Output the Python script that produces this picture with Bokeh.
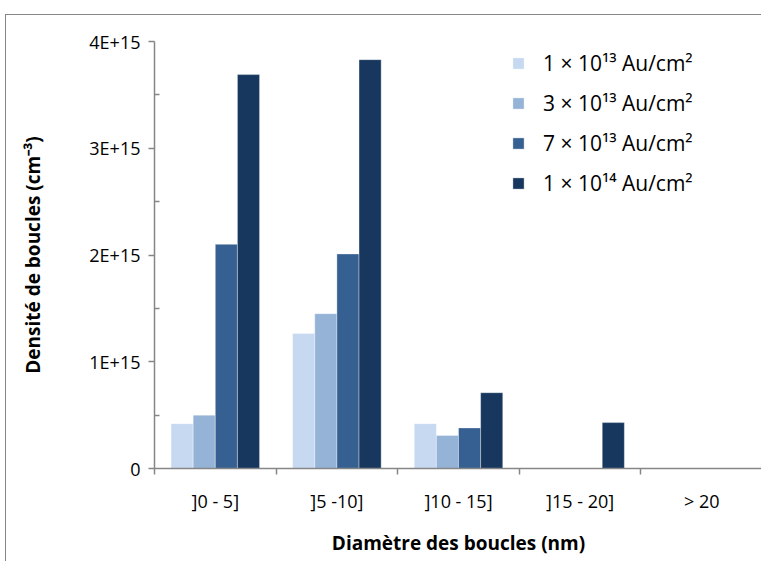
from bokeh.plotting import figure
from bokeh.models import (FixedTicker, CustomJSTickFormatter, Legend, LegendItem,
                          ColumnDataSource, LinearAxis)
from bokeh.embed import file_html
from bokeh.resources import INLINE

categories = ["]0 - 5]", "]5 -10]", "]10 - 15]", "]15 - 20]", "> 20"]
series_labels = ["1 × 10¹³ Au/cm²", "3 × 10¹³ Au/cm²", "7 × 10¹³ Au/cm²", "1 × 10¹⁴ Au/cm²"]
dose_1e13 = [0.42e15, 1.265e15, 0.42e15, 0.0, 0.0]
dose_3e13 = [0.50e15, 1.45e15, 0.31e15, 0.0, 0.0]
dose_7e13 = [2.10e15, 2.01e15, 0.38e15, 0.0, 0.0]
dose_1e14 = [3.69e15, 3.83e15, 0.71e15, 0.43e15, 0.0]
colors = ["#C6D9F1", "#95B3D7", "#366092", "#17375E"]
y_ticks = [0, 1e15, 2e15, 3e15, 4e15]

series = [dose_1e13, dose_3e13, dose_7e13, dose_1e14]

p = figure(width=756, height=547, output_backend="svg", toolbar_location=None,
           x_range=(0, len(categories)), y_range=(0, 4e15),
           min_border_left=148, min_border_right=0, min_border_top=26, min_border_bottom=94,
           x_axis_type=None, y_axis_type=None)
p.styles = {"margin-top": "14px",
            "margin-left": "5px",
            "border-top": "1px solid #868686",
            "border-left": "1px solid #868686"}
p.outline_line_color = None
p.xgrid.visible = False
p.ygrid.visible = False
p.background_fill_color = "white"
p.border_fill_color = "white"

bar_w = 0.182
items = []
for j, (vals, col, lab) in enumerate(zip(series, colors, series_labels)):
    xs = [i + 0.5 + (j - 1.5) * bar_w for i in range(len(categories))]
    src = ColumnDataSource(dict(x=xs, top=vals))
    r = p.vbar(x="x", top="top", width=bar_w, source=src, fill_color=col,
               line_color="white", line_alpha=0.6, line_width=0.6)
    items.append(LegendItem(label=lab, renderers=[r]))

FONT = "Open Sans"
axis_col = "#868686"

# x axis: labels at category centres, tick marks at boundaries
xaxis = LinearAxis(ticker=FixedTicker(ticks=[i + 0.5 for i in range(len(categories))],
                                      minor_ticks=list(range(len(categories) + 1))))
xaxis.major_label_overrides = {i + 0.5: c for i, c in enumerate(categories)}
xaxis.major_tick_line_color = None
xaxis.minor_tick_line_color = axis_col
xaxis.minor_tick_out = 6
xaxis.minor_tick_in = 0
xaxis.axis_line_color = axis_col
xaxis.axis_line_width = 1.5
xaxis.minor_tick_line_width = 1.5
xaxis.major_label_text_font = FONT
xaxis.major_label_text_font_size = "18px"
xaxis.major_label_text_color = "black"
xaxis.major_label_standoff = 14
xaxis.axis_label = "Diamètre des boucles (nm)"
xaxis.axis_label_text_font = FONT
xaxis.axis_label_text_font_size = "19px"
xaxis.axis_label_text_font_style = "bold"
xaxis.axis_label_text_color = "black"
xaxis.axis_label_standoff = 14
p.add_layout(xaxis, "below")

yaxis = LinearAxis(ticker=FixedTicker(ticks=y_ticks,
                                      minor_ticks=[t + 0.5e15 for t in y_ticks[:-1]]))
yaxis.formatter = CustomJSTickFormatter(code="""
    if (tick == 0) { return "0"; }
    return (tick / 1e15).toFixed(0) + "E+15";
""")
yaxis.axis_line_color = axis_col
yaxis.axis_line_width = 1.5
yaxis.major_tick_line_color = axis_col
yaxis.major_tick_line_width = 1.5
yaxis.minor_tick_line_color = axis_col
yaxis.minor_tick_line_width = 1.5
yaxis.major_tick_in = 0
yaxis.major_tick_out = 6
yaxis.minor_tick_in = 5
yaxis.minor_tick_out = 0
yaxis.major_label_text_font = FONT
yaxis.major_label_text_font_size = "18px"
yaxis.major_label_text_color = "black"
yaxis.major_label_standoff = 8
yaxis.axis_label = "Densité de boucles (cm⁻³)"
yaxis.axis_label_text_font = FONT
yaxis.axis_label_text_font_size = "19px"
yaxis.axis_label_text_font_style = "bold"
yaxis.axis_label_text_color = "black"
yaxis.axis_label_standoff = 40
p.add_layout(yaxis, "left")

legend = Legend(items=items, location=(357, 270), orientation="vertical",
                label_text_font=FONT, label_text_font_size="21px", label_text_color="black",
                glyph_width=14, glyph_height=14, label_standoff=18, label_height=30,
                spacing=10, padding=0, margin=0, border_line_color=None,
                background_fill_alpha=0)
p.add_layout(legend, "center")

open("out.html", "w").write(file_html(p, INLINE))
